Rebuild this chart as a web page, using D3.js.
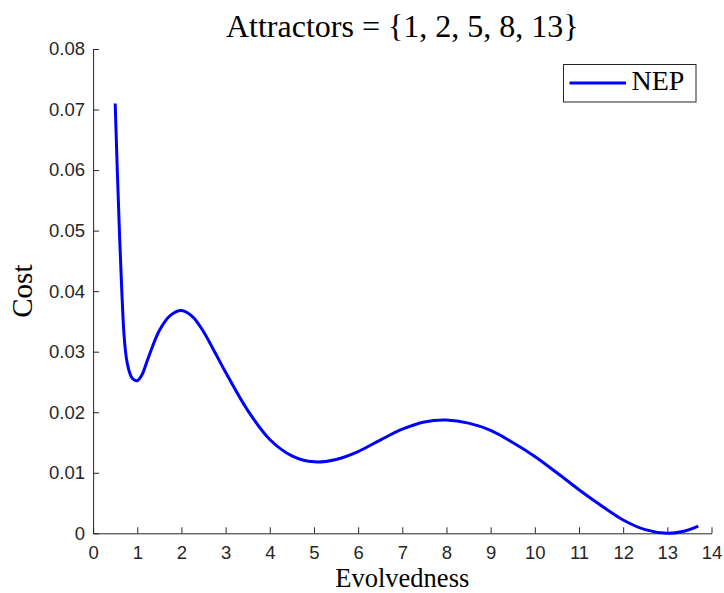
<!DOCTYPE html>
<html>
<head>
<meta charset="utf-8">
<script src="https://cdn.jsdelivr.net/npm/d3@7"></script>
<style>
  body { margin: 0; background: #fff; }
  svg { display: block; }
</style>
</head>
<body>
<div id="chart"></div>
<script>
// curve
const evolvedness = [0.5, 0.55, 0.6, 0.65, 0.7, 0.75, 0.8, 0.85, 0.9, 1.0, 1.1, 1.25, 1.5, 1.75, 2.0,
  2.25, 2.5, 2.75, 3.0, 3.5, 4.0, 4.5, 5.0, 5.5, 6.0, 6.5, 7.0, 7.5, 8.0, 8.5, 9.0,
  9.5, 10.0, 10.5, 11.0, 11.5, 12.0, 12.5, 13.0, 13.35, 13.7];
const cost = [0.0710, 0.0595, 0.0490, 0.0400, 0.0328, 0.0291, 0.0272, 0.0261, 0.0255, 0.0252, 0.0261, 0.0290, 0.0335, 0.0360, 0.0368,
  0.0358, 0.0333, 0.0300, 0.0266, 0.0203, 0.0155, 0.0128, 0.0118, 0.0122, 0.0135, 0.0154, 0.0172, 0.0184, 0.0187, 0.0182, 0.0170,
  0.0150, 0.0127, 0.0100, 0.0072, 0.0046, 0.0022, 0.0006, 0.0000, 0.0003, 0.0012];
const xTicks = d3.range(0, 15);
const yTicks = [0, 0.01, 0.02, 0.03, 0.04, 0.05, 0.06, 0.07, 0.08];
const seriesName = "NEP";
const titleText = "Attractors = {1, 2, 5, 8, 13}";

const width = 724, height = 593;
const margin = {top: 49, right: 12.5, bottom: 59.7, left: 93.1};
const axisColor = "#262626";

const svg = d3.select("#chart").append("svg")
    .attr("width", width)
    .attr("height", height);

const x = d3.scaleLinear().domain([0, 14]).range([margin.left, width - margin.right]);
const y = d3.scaleLinear().domain([0, 0.08]).range([height - margin.bottom, margin.top]);

// axes, ticks point inward like matlab
const xAxis = svg.append("g")
    .attr("transform", "translate(0," + y(0) + ")")
    .call(d3.axisBottom(x).tickValues(xTicks).tickSizeInner(-6).tickSizeOuter(0).tickPadding(13));
const yAxis = svg.append("g")
    .attr("transform", "translate(" + x(0) + ",0)")
    .call(d3.axisLeft(y).tickValues(yTicks).tickSizeInner(-6).tickSizeOuter(0).tickPadding(8)
        .tickFormat(d => d === 0 ? "0" : d.toFixed(2)));

[xAxis, yAxis].forEach(g => {
    g.select(".domain").attr("stroke", axisColor).attr("stroke-width", 1);
    g.selectAll(".tick line").attr("stroke", axisColor);
    g.selectAll(".tick text")
        .attr("fill", axisColor)
        .style("font-family", "'Liberation Sans', Arial, sans-serif")
        .style("font-size", "18.5px");
});

const line = d3.line()
    .x((d, i) => x(evolvedness[i]))
    .y(d => y(d))
    .curve(d3.curveCatmullRom.alpha(0.5));

svg.append("path")
    .datum(cost)
    .attr("fill", "none")
    .attr("stroke", "#0000ff")
    .attr("stroke-width", 3)
    .attr("stroke-linejoin", "round")
    .attr("d", line);

const serif = "'Liberation Serif', 'Times New Roman', serif";

svg.append("text")
    .attr("x", (x(0) + x(14)) / 2)
    .attr("y", 37)
    .attr("text-anchor", "middle")
    .style("font-family", serif)
    .style("font-size", "32px")
    .attr("fill", "#000")
    .text(titleText);

svg.append("text")
    .attr("x", (x(0) + x(14)) / 2)
    .attr("y", 587)
    .attr("text-anchor", "middle")
    .style("font-family", serif)
    .style("font-size", "26.5px")
    .attr("fill", "#000")
    .text("Evolvedness");

svg.append("text")
    .attr("transform", "translate(32," + y(0.04) + ")rotate(-90)")
    .attr("text-anchor", "middle")
    .style("font-family", serif)
    .style("font-size", "29px")
    .attr("fill", "#000")
    .text("Cost");

// legend
const legend = svg.append("g");
legend.append("rect")
    .attr("x", 563.5).attr("y", 64.5)
    .attr("width", 132.5).attr("height", 37.5)
    .attr("fill", "#fff")
    .attr("stroke", axisColor)
    .attr("stroke-width", 1);
legend.append("line")
    .attr("x1", 569.5).attr("x2", 626)
    .attr("y1", 83).attr("y2", 83)
    .attr("stroke", "#0000ff")
    .attr("stroke-width", 3);
legend.append("text")
    .attr("x", 631.5).attr("y", 89.5)
    .style("font-family", serif)
    .style("font-size", "28px")
    .attr("fill", "#000")
    .text(seriesName);
</script>
</body>
</html>
